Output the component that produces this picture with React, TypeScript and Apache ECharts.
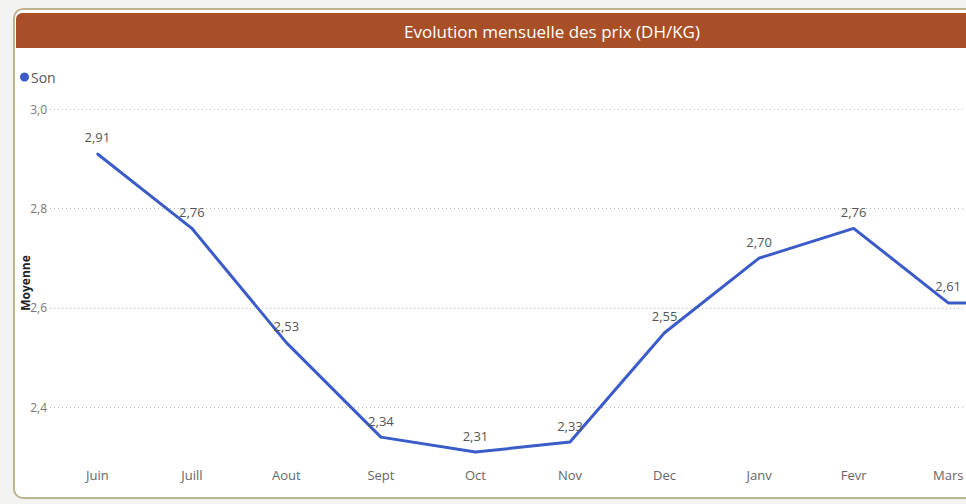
import React, { useEffect, useRef } from "react";
import * as echarts from "echarts";

const months = ["Juin", "Juill", "Aout", "Sept", "Oct", "Nov", "Dec", "Janv", "Fevr", "Mars", "Avril"];
const sonValues = [2.91, 2.76, 2.53, 2.34, 2.31, 2.33, 2.55, 2.70, 2.76, 2.61, 2.61];
const gridLevels = [2.4, 2.6, 2.8, 3.0];
const titleText = "Evolution mensuelle des prix (DH/KG)";
const seriesName = "Son";
const yName = "Moyenne";

const FONT = "'Open Sans', 'Noto Sans', sans-serif";

export default function App() {
  const ref = useRef<HTMLDivElement>(null);
  useEffect(() => {
    if (!ref.current) return;
    const chart = echarts.init(ref.current, undefined, { renderer: "svg" });
    const fmt = (v: number, d: number) => v.toFixed(d).replace(".", ",");
    chart.setOption({
      animation: false,
      backgroundColor: "#f3f3f1",
      textStyle: { fontFamily: FONT },
      graphic: [
        {
          type: "rect",
          z: -10,
          shape: { x: 14, y: 9, width: 1100, height: 489, r: 9 },
          style: { fill: "#ffffff", stroke: "#bdb38f", lineWidth: 2 },
        },
        {
          type: "rect",
          z: -9,
          shape: { x: 16, y: 13, width: 1100, height: 35, r: [6, 0, 0, 0] },
          style: { fill: "#a84f27" },
        },
        {
          type: "text",
          z: 10,
          x: 552,
          y: 31,
          style: {
            text: titleText,
            fill: "#ffffff",
            font: "17px 'Liberation Sans Narrow', 'Open Sans', sans-serif",
            align: "center",
            verticalAlign: "middle",
          },
        },
      ],
      legend: {
        left: 15,
        top: 65,
        icon: "circle",
        itemWidth: 9,
        itemHeight: 9,
        itemGap: 4,
        data: [seriesName],
        textStyle: { color: "#555555", fontSize: 14, fontFamily: FONT, padding: [0, 0, 0, -3] },
      },
      grid: { left: 50, top: 109, bottom: 47, right: 0, containLabel: false },
      xAxis: {
        type: "category",
        data: months,
        boundaryGap: true,
        axisLine: { show: false },
        axisTick: { show: false },
        axisLabel: { color: "#666666", fontSize: 13, margin: 11, fontFamily: FONT },
      },
      yAxis: {
        type: "value",
        min: 2.3,
        max: 3.0,
        interval: 0.1,
        name: yName,
        nameLocation: "middle",
        nameGap: 19,
        nameRotate: 90,
        nameMoveOverlap: false,
        nameTextStyle: { color: "#222222", fontSize: 12, fontWeight: "bold", fontFamily: FONT },
        axisLine: { show: false },
        axisTick: { show: false },
        splitLine: { show: false },
        axisLabel: {
          color: "#777777",
          fontSize: 12,
          margin: 3,
          fontFamily: FONT,
          formatter: (v: number) => (Math.round(v * 10) % 2 === 0 ? fmt(v, 1) : ""),
        },
      },
      series: [
        {
          name: seriesName,
          type: "line",
          data: sonValues,
          color: "#3b5cc8",
          symbol: "circle",
          symbolSize: 2,
          lineStyle: { width: 3, color: "#3b5cc8" },
          label: {
            show: true,
            position: "top",
            distance: 9,
            color: "#555555",
            fontSize: 13,
            fontFamily: FONT,
            formatter: (p: any) => fmt(p.value, 2),
          },
          markLine: {
            silent: true,
            symbol: "none",
            label: { show: false },
            lineStyle: { color: "#bbbbbb", type: [1, 3], width: 1 },
            data: gridLevels.map((v) => ({ yAxis: v })),
            z: 1,
          },
        },
      ],
    });
    return () => chart.dispose();
  }, []);
  return (
    <div style={{ position: "absolute", left: 0, top: 0, width: 966, height: 504, overflow: "hidden" }}>
      <div ref={ref} style={{ width: 1090, height: 504 }} />
    </div>
  );
}
